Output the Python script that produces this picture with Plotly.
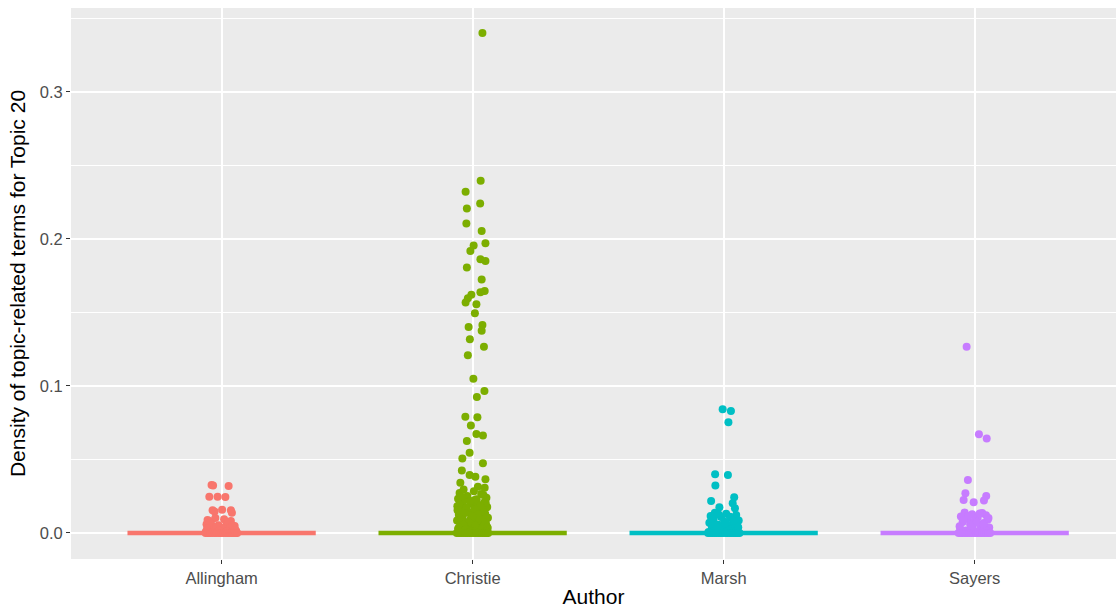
import plotly.graph_objects as go

# Authors on the x axis and their ggplot-style hue colours
authors = ["Allingham", "Christie", "Marsh", "Sayers"]
author_colors = ["#F8766D", "#7CAE00", "#00BFC4", "#C77CFF"]

# Per-author median density (drawn as the horizontal bar at each author)
author_medians = [0.0, 0.0, 0.0, 0.0]

# Topic-20 density per chapter, with the horizontal jitter (category units)
allingham_y = [0.0327, 0.0322, 0.0320, 0.0247, 0.0247, 0.0245, 0.0158, 0.0155,
               0.0155, 0.0138, 0.0146, 0.0088, 0.0080, 0.0082, 0.0060, 0.0058,
               0.0052, 0.0047, 0.0041, 0.0036, 0.0031, 0.0026, 0.0022, 0.0018,
               0.0013, 0.0009, 0.0006, 0.0003,
               0.0102, 0.0094, 0.0071, 0.0067, 0.0049, 0.0043, 0.0035, 0.0028,
               0.0021, 0.0015, 0.0011, 0.0007, 0.0004, 0.0002,
               0.0, 0.0, 0.0, 0.0, 0.0, 0.0, 0.0, 0.0, 0.0, 0.0, 0.0, 0.0,
               0.0, 0.0, 0.0, 0.0]
allingham_dx = [-0.040, -0.034, 0.028, -0.049, -0.016, 0.015, 0.002, -0.036,
                0.037, 0.041, -0.028, -0.056, -0.042, 0.037, -0.060, 0.020,
                -0.012, 0.052, -0.030, 0.006, 0.044, -0.050, -0.020, 0.030,
                0.058, -0.063, 0.012, -0.004,
                -0.025, 0.010, 0.025, -0.047, 0.045, -0.022, 0.033, -0.058,
                0.055, -0.008, 0.022, -0.038, 0.040, -0.052,
                -0.064, -0.055, -0.046, -0.037, -0.027, -0.019, -0.010, -0.002,
                0.007, 0.016, 0.024, 0.033, 0.041, 0.049, 0.056, 0.062]

christie_y = [0.340, 0.2395, 0.232, 0.224, 0.2206, 0.2104, 0.2054, 0.197,
              0.1955, 0.1918, 0.1862, 0.185, 0.1805, 0.1723, 0.1646, 0.1637,
              0.162, 0.1596, 0.1567, 0.1556, 0.1494, 0.140, 0.1415, 0.1376,
              0.1317, 0.1267, 0.1209, 0.1048, 0.0966, 0.0925, 0.0791, 0.0787,
              0.073, 0.0673, 0.0662, 0.0626, 0.0546, 0.0506, 0.0474, 0.0424,
              0.0395, 0.0383, 0.0342, 0.0365, 0.0308, 0.0315,
              0.0272, 0.0265, 0.0251, 0.0240, 0.0232, 0.0225, 0.0214, 0.0207,
              0.0198, 0.0190, 0.0181, 0.0176, 0.0168, 0.0160, 0.0152, 0.0147,
              0.0139, 0.0131, 0.0124, 0.0118, 0.0110, 0.0104, 0.0097, 0.0090,
              0.0084, 0.0079, 0.0072, 0.0066, 0.0060, 0.0055, 0.0049, 0.0044,
              0.0039, 0.0034, 0.0029, 0.0025, 0.0020, 0.0016, 0.0012, 0.0008,
              0.0005, 0.0003,
              0.0296, 0.0284, 0.0258, 0.0246, 0.0229, 0.0218, 0.0203, 0.0194,
              0.0185, 0.0172, 0.0163, 0.0155, 0.0143, 0.0135, 0.0127, 0.0114,
              0.0106, 0.0094, 0.0087, 0.0075, 0.0069, 0.0057, 0.0051, 0.0041,
              0.0036, 0.0027, 0.0022, 0.0014, 0.0010, 0.0006,
              0.0, 0.0, 0.0, 0.0, 0.0, 0.0, 0.0, 0.0, 0.0, 0.0, 0.0, 0.0,
              0.0, 0.0, 0.0, 0.0]
christie_dx = [0.039, 0.032, -0.028, 0.030, -0.023, -0.025, 0.036, 0.051,
               0.004, -0.009, 0.031, 0.051, -0.023, 0.036, 0.048, 0.031,
               -0.005, -0.019, -0.028, 0.015, 0.009, -0.016, 0.039, 0.036,
               -0.011, 0.045, -0.019, 0.003, 0.047, 0.017, -0.029, 0.019,
               -0.007, 0.015, 0.041, -0.023, -0.012, -0.041, 0.041, -0.043,
               -0.012, 0.011, -0.049, 0.051, 0.048, 0.021,
               -0.052, 0.034, -0.021, 0.055, -0.058, 0.008, -0.037, 0.046,
               -0.005, 0.024, -0.061, 0.058, -0.030, 0.039, -0.047, 0.013,
               -0.014, 0.050, -0.055, 0.027, -0.040, 0.061, -0.008, 0.036,
               -0.062, 0.004, -0.026, 0.053, -0.049, 0.019, -0.033, 0.044,
               -0.015, 0.060, -0.058, 0.030, -0.003, 0.048, -0.042, 0.012,
               -0.020, 0.057,
               -0.036, 0.005, 0.043, -0.044, 0.016, -0.010, 0.052, -0.053,
               0.030, -0.024, 0.007, -0.060, 0.045, -0.032, 0.021, -0.001,
               0.056, -0.045, 0.026, -0.017, 0.049, -0.036, 0.010, 0.058,
               -0.055, 0.038, -0.028, 0.003, 0.052, -0.011,
               -0.063, -0.054, -0.046, -0.038, -0.029, -0.021, -0.012, -0.004,
               0.005, 0.013, 0.022, 0.030, 0.039, 0.047, 0.055, 0.062]

marsh_y = [0.0841, 0.0830, 0.0753, 0.0399, 0.0395, 0.0322, 0.0243, 0.0218,
           0.0202, 0.0175, 0.0168,
           0.0138, 0.0130, 0.0122, 0.0115, 0.0108, 0.0100, 0.0092, 0.0085,
           0.0078, 0.0070, 0.0063, 0.0056, 0.0049, 0.0042, 0.0036, 0.0030,
           0.0024, 0.0018, 0.0012, 0.0007, 0.0003,
           0.0126, 0.0111, 0.0096, 0.0081, 0.0066, 0.0053, 0.0039, 0.0027,
           0.0015, 0.0005,
           0.0, 0.0, 0.0, 0.0, 0.0, 0.0, 0.0, 0.0, 0.0, 0.0, 0.0, 0.0,
           0.0, 0.0, 0.0, 0.0]
marsh_dx = [-0.004, 0.029, 0.019, -0.034, 0.017, -0.033, 0.042, -0.050,
            0.036, -0.017, 0.045,
            -0.035, 0.010, 0.050, -0.052, -0.010, 0.030, -0.040, 0.060,
            0.002, -0.057, 0.040, -0.022, 0.018, -0.047, 0.055, -0.005,
            0.033, -0.030, 0.047, -0.060, 0.012,
            -0.020, 0.025, -0.048, 0.040, 0.008, -0.033, 0.058, -0.015,
            0.022, 0.045,
            -0.062, -0.053, -0.045, -0.036, -0.028, -0.019, -0.011, -0.003,
            0.006, 0.014, 0.023, 0.031, 0.040, 0.048, 0.056, 0.063]

sayers_y = [0.1267, 0.0671, 0.0642, 0.0361, 0.0270, 0.0252, 0.0224, 0.0220,
            0.0209,
            0.0140, 0.0135, 0.0128, 0.0120, 0.0112, 0.0105, 0.0098, 0.0090,
            0.0082, 0.0075, 0.0068, 0.0060, 0.0052, 0.0045, 0.0038, 0.0031,
            0.0024, 0.0017, 0.0011, 0.0005,
            0.0132, 0.0116, 0.0101, 0.0086, 0.0071, 0.0057, 0.0041, 0.0028,
            0.0014, 0.0006,
            0.0, 0.0, 0.0, 0.0, 0.0, 0.0, 0.0, 0.0, 0.0, 0.0, 0.0, 0.0,
            0.0, 0.0, 0.0, 0.0]
sayers_dx = [-0.032, 0.017, 0.048, -0.027, -0.037, 0.046, -0.044, 0.037,
             -0.004,
             -0.040, 0.030, -0.010, 0.045, -0.055, 0.012, -0.028, 0.052,
             0.000, -0.048, 0.036, -0.018, 0.022, -0.060, 0.058, -0.008,
             0.040, -0.035, 0.015, -0.050,
             0.020, -0.025, 0.055, -0.045, 0.008, 0.035, -0.015, -0.058,
             0.048, 0.026,
             -0.064, -0.055, -0.047, -0.038, -0.030, -0.021, -0.013, -0.004,
             0.005, 0.013, 0.022, 0.030, 0.039, 0.047, 0.055, 0.062]

values = [allingham_y, christie_y, marsh_y, sayers_y]
jitters = [allingham_dx, christie_dx, marsh_dx, sayers_dx]

fig = go.Figure()

# Median bars first so the points sit on top of them
for i, (name, color, med) in enumerate(zip(authors, author_colors, author_medians)):
    pos = i + 1
    fig.add_trace(go.Scatter(
        x=[pos - 0.375, pos + 0.375], y=[med, med], mode="lines",
        line=dict(color=color, width=4.5), showlegend=False, hoverinfo="skip",
    ))

# Jittered chapter points
for i, (name, color) in enumerate(zip(authors, author_colors)):
    pos = i + 1
    fig.add_trace(go.Scatter(
        x=[pos + d for d in jitters[i]], y=values[i], mode="markers",
        marker=dict(color=color, size=8, line=dict(width=0)),
        name=name, showlegend=False,
    ))

tick_font = dict(family="Liberation Sans, Arial, sans-serif", size=16.5, color="#4D4D4D")
title_font = dict(family="Liberation Sans, Arial, sans-serif", size=21, color="#000000")

fig.update_layout(
    width=1116, height=609,
    margin=dict(l=71, r=0, t=8, b=50),
    paper_bgcolor="#FFFFFF",
    plot_bgcolor="#EBEBEB",
    showlegend=False,
    xaxis=dict(
        range=[0.4, 4.563],
        tickvals=[1, 2, 3, 4], ticktext=authors,
        ticks="outside", ticklen=4, tickwidth=1, tickcolor="#333333",
        tickfont=tick_font,
        showgrid=True, gridcolor="#FFFFFF", gridwidth=2,
        zeroline=False, showline=False,
        title=dict(text="Author", font=title_font, standoff=3),
    ),
    yaxis=dict(
        range=[-0.0177, 0.357],
        tickvals=[0.0, 0.1, 0.2, 0.3], tickformat=".1f",
        ticks="outside", ticklen=4, tickwidth=1, tickcolor="#333333",
        tickfont=tick_font,
        showgrid=True, gridcolor="#FFFFFF", gridwidth=2,
        minor=dict(tickvals=[0.05, 0.15, 0.25, 0.35], showgrid=True,
                   gridcolor="#FFFFFF", gridwidth=1, ticks=""),
        zeroline=False, showline=False,
        title=dict(text="Density of topic-related terms for Topic 20",
                   font=title_font, standoff=8),
    ),
)

fig.write_html("out.html")
